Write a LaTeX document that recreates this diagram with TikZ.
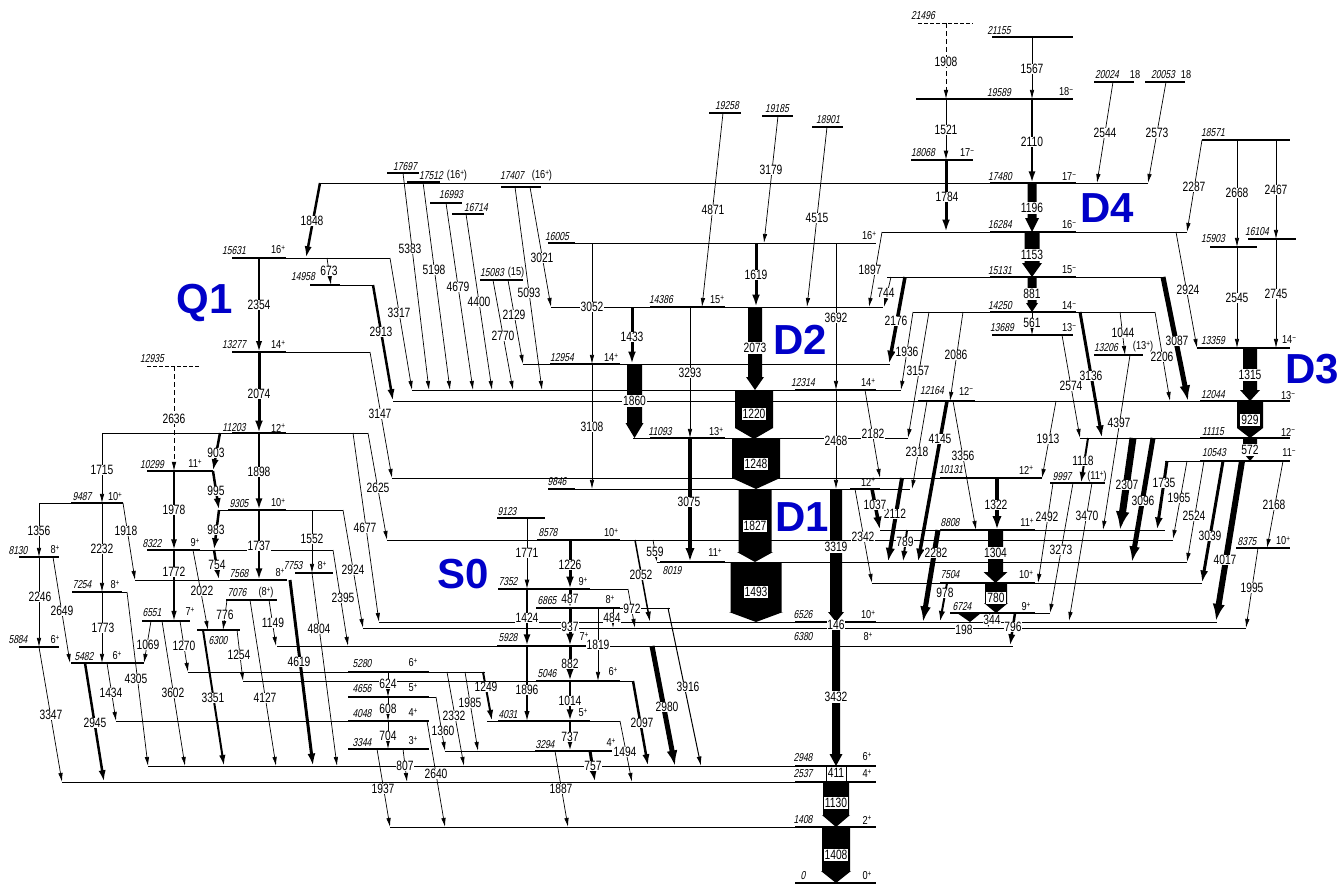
\documentclass[tikz,border=0pt]{standalone}
\usepackage{fontspec}
\setmainfont{Liberation Sans}
\newfontfamily\lblf[FakeStretch=0.76]{Liberation Sans}
\newfontfamily\lble[FakeStretch=0.74,FakeSlant=0.2]{Liberation Sans}
\newfontfamily\lbls[FakeStretch=0.8]{Liberation Sans}
\usetikzlibrary{arrows.meta}
\definecolor{bandblue}{RGB}{0,0,200}
\pgfdeclarelayer{front}
\pgfsetlayers{main,front}
\tikzset{
  lev/.style={line width=0.7pt},
  levm/.style={line width=1.2pt},
  trn/.style={-{Latex[length=8pt 1.5,width=3.4pt 1.5]}},
  tl/.style={font=\lblf\fontsize{13.5}{13.5}\selectfont, fill=white, inner sep=0.6pt},
  tlb/.style={font=\lblf\fontsize{13.5}{13.5}\selectfont, fill=white, inner sep=1pt},
  el/.style={font=\lble\fontsize{11.5}{11.5}\selectfont, inner sep=0pt},
  sl/.style={font=\lbls\fontsize{11.5}{11.5}\selectfont, inner sep=0pt},
  band/.style={font=\bfseries\fontsize{42}{42}\selectfont, text=bandblue, inner sep=0pt},
}
\newcommand\up[1]{\raisebox{0.5ex}{\fontsize{8}{8}\selectfont #1}}
\newcommand\LvT[3]{\draw[lev] (#2,#1) -- (#3,#1);}
\newcommand\LvM[3]{\draw[levm] (#2,#1) -- (#3,#1);}
\newcommand\Gam[8][0.7]{\draw[trn,line width=#1pt] (#2,#3) -- (#4,#5);
  \begin{pgfonlayer}{front}\node[tl] at (#6,#7) {#8};\end{pgfonlayer}}
\newcommand\BoxArr[8]{\fill ({#1-#4},#2) -- ({#1+#4},#2) -- ({#1+#4},{#3-#6}) -- ({#1+#5},{#3-#6}) -- (#1,#3) -- ({#1-#5},{#3-#6}) -- ({#1-#4},{#3-#6}) -- cycle;
  \begin{pgfonlayer}{front}\node[tlb] at (#1,#7) {#8};\end{pgfonlayer}}
\newcommand\EnL[3]{\node[el] at (#1,#2) {#3};}
\newcommand\SpL[3]{\node[sl] at (#1,#2) {#3};}
\begin{document}
\begin{tikzpicture}[x=1pt,y=-1pt]
\fill[white] (0,0) rectangle (1338,886);
\useasboundingbox (0,0) rectangle (1338,886);
% ---------------- levels
\draw[lev,dash pattern=on 4pt off 2pt] (918,23) -- (973,23);
\LvM{37}{992}{1073}
\LvM{99}{916}{1073}
\LvM{82}{1094}{1134}
\LvM{82}{1145}{1185}
\LvM{113}{709}{741}
\LvM{116}{762}{793}
\LvM{127}{812}{843}
\LvM{140}{1202}{1290}
\LvM{160}{911}{973}
\LvM{173}{387}{419}
\LvM{182}{407}{440}
\LvT{183}{320}{1148}\LvM{183}{990}{1076}
\LvM{187}{501}{541}
\LvM{203}{430}{462}
\LvM{214}{452}{484}
\LvM{239}{1248}{1296}
\LvT{243}{550}{876}\LvM{243}{548}{575}
\LvM{247}{1210}{1257}
\LvT{232}{882}{1187}\LvM{232}{990}{1076}
\LvM{258}{232}{286}\LvT{258}{286}{390}
\LvT{277}{887}{1163}\LvM{277}{990}{1076}
\LvM{280}{480}{523}
\LvM{285}{310}{340}\LvT{285}{340}{373}
\LvT{307}{551}{883}\LvM{307}{650}{725}
\LvT{312}{913}{1155}\LvM{312}{990}{1076}
\LvM{335}{992}{1073}
\LvM{348}{1197}{1290}
\LvM{352}{232}{286}\LvT{352}{286}{370}
\LvM{355}{1094}{1143}
\LvT{364}{523}{890}\LvM{364}{550}{620}
\draw[lev,dash pattern=on 4pt off 2pt] (147,366) -- (200,366);
\LvT{390}{412}{901}\LvM{390}{795}{876}
\LvT{401}{393}{1290}\LvM{401}{1200}{1290}\LvM{401}{918}{975}
\LvT{433}{102}{368}\LvM{433}{232}{286}
\LvT{438}{633}{908}\LvM{438}{650}{725}
\LvT{438}{1080}{1290}\LvM{438}{1200}{1290}
\LvT{461}{1165}{1290}\LvM{461}{1200}{1290}
\LvM{471}{147}{213}
\LvT{478}{392}{1042}\LvM{478}{940}{1042}
\LvM{483}{1050}{1105}
\LvT{489}{548}{910}\LvM{489}{548}{575}\LvM{489}{850}{880}
\LvM{503}{71}{123}\LvT{503}{39}{71}
\LvM{510}{228}{286}\LvT{510}{219}{343}
\LvM{518}{497}{545}
\LvT{530}{880}{1165}\LvM{530}{940}{1035}
\LvT{540}{387}{1173}\LvM{540}{537}{620}
\LvM{548}{1236}{1290}
\LvM{550}{147}{200}\LvT{550}{200}{333}
\LvM{557}{19}{59}
\LvT{562}{657}{1187}\LvM{562}{660}{725}
\LvM{573}{295}{333}
\LvM{580}{230}{287}\LvT{580}{135}{230}
\LvT{583}{872}{1202}\LvM{583}{940}{1035}
\LvM{589}{498}{590}\LvT{589}{590}{628}
\LvM{592}{72}{122}\LvT{592}{122}{127}
\LvM{600}{226}{277}
\LvM{608}{536}{620}\LvT{608}{620}{670}
\LvM{613}{950}{1035}\LvT{613}{1035}{1050}
\LvM{621}{142}{190}
\LvT{622}{379}{1217}\LvM{622}{795}{876}
\LvT{628}{363}{1246}
\LvM{630}{197}{240}
\LvT{646}{277}{1013}\LvM{646}{497}{590}
\LvM{647}{19}{59}
\LvM{663}{71}{144}
\LvM{672}{348}{429}\LvT{672}{188}{485}
\LvM{681}{536}{620}\LvT{681}{243}{633}
\LvM{697}{348}{429}\LvT{697}{429}{436}
\LvM{721}{348}{429}\LvT{721}{116}{348}
\LvM{721}{498}{590}\LvT{721}{487}{620}
\LvM{749}{348}{429}
\LvM{751}{535}{612}\LvT{751}{445}{535}
\LvT{766}{148}{876}\LvM{766}{795}{876}
\LvT{782}{62}{876}\LvM{782}{795}{876}
\LvT{827}{390}{876}\LvM{827}{795}{876}
\LvM{883}{795}{876}
% ---------------- energy and spin labels
\EnL{923}{16}{21496}
\EnL{999}{31}{21155}
\EnL{999}{93}{19589}\SpL{1066}{92}{18\up{−}}
\EnL{1107}{75}{20024}\SpL{1135}{75}{18}
\EnL{1163}{75}{20053}\SpL{1186}{75}{18}
\EnL{727}{106}{19258}
\EnL{777}{109}{19185}
\EnL{828}{120}{18901}
\EnL{1213}{133}{18571}
\EnL{923}{153}{18068}\SpL{967}{153}{17\up{−}}
\EnL{405}{167}{17697}
\EnL{431}{176}{17512}\SpL{457}{176}{(16\up{+})}
\EnL{1000}{177}{17480}\SpL{1069}{177}{17\up{−}}
\EnL{512}{176}{17407}\SpL{542}{176}{(16\up{+})}
\EnL{451}{195}{16993}
\EnL{476}{208}{16714}
\EnL{1000}{225}{16284}\SpL{1069}{225}{16\up{−}}
\EnL{1257}{232}{16104}
\EnL{557}{237}{16005}\SpL{869}{236}{16\up{+}}
\EnL{1213}{239}{15903}
\EnL{234}{251}{15631}\SpL{278}{250}{16\up{+}}
\EnL{1000}{271}{15131}\SpL{1069}{270}{15\up{−}}
\EnL{492}{273}{15083}\SpL{516}{273}{(15)}
\EnL{303}{277}{14958}
\EnL{661}{300}{14386}\SpL{717}{300}{15\up{+}}
\EnL{1000}{306}{14250}\SpL{1069}{306}{14\up{−}}
\EnL{1002}{328}{13689}\SpL{1069}{328}{13\up{−}}
\EnL{1213}{341}{13359}\SpL{1289}{340}{14\up{−}}
\EnL{234}{345}{13277}\SpL{278}{345}{14\up{+}}
\EnL{1106}{348}{13206}\SpL{1143}{347}{(13\up{+})}
\EnL{562}{358}{12954}\SpL{611}{358}{14\up{+}}
\EnL{152}{359}{12935}
\EnL{803}{383}{12314}\SpL{868}{383}{14\up{+}}
\EnL{932}{391}{12164}\SpL{966}{391}{12\up{−}}
\EnL{1213}{395}{12044}\SpL{1288}{396}{13\up{−}}
\EnL{234}{428}{11203}\SpL{278}{428}{12\up{+}}
\EnL{660}{432}{11093}\SpL{716}{432}{13\up{+}}
\EnL{1213}{432}{11115}\SpL{1288}{432}{12\up{−}}
\EnL{1214}{453}{10543}\SpL{1289}{453}{11\up{−}}
\EnL{152}{465}{10299}\SpL{195}{464}{11\up{+}}
\EnL{951}{470}{10131}\SpL{1026}{470}{12\up{+}}
\EnL{1062}{477}{9997}\SpL{1097}{477}{(11\up{+})}
\EnL{557}{482}{9846}\SpL{868}{482}{12\up{+}}
\EnL{82}{497}{9487}\SpL{115}{497}{10\up{+}}
\EnL{239}{504}{9305}\SpL{278}{503}{10\up{+}}
\EnL{507}{512}{9123}
\EnL{950}{523}{8808}\SpL{1027}{523}{11\up{+}}
\EnL{548}{533}{8578}\SpL{611}{533}{10\up{+}}
\EnL{1247}{542}{8375}\SpL{1283}{541}{10\up{+}}
\EnL{152}{544}{8322}\SpL{195}{543}{9\up{+}}
\EnL{18}{551}{8130}\SpL{55}{550}{8\up{+}}
\EnL{672}{571}{8019}\SpL{715}{553}{11\up{+}}
\EnL{293}{566}{7753}\SpL{322}{566}{8\up{+}}
\EnL{239}{574}{7568}\SpL{280}{573}{8\up{+}}
\EnL{950}{575}{7504}\SpL{1026}{575}{10\up{+}}
\EnL{508}{582}{7352}\SpL{583}{582}{9\up{+}}
\EnL{82}{585}{7254}\SpL{115}{585}{8\up{+}}
\EnL{237}{593}{7076}\SpL{266}{593}{(8\up{+})}
\EnL{547}{601}{6865}\SpL{610}{600}{8\up{+}}
\EnL{962}{607}{6724}\SpL{1026}{607}{9\up{+}}
\EnL{152}{613}{6551}\SpL{190}{612}{7\up{+}}
\EnL{803}{615}{6526}\SpL{868}{615}{10\up{+}}
\EnL{803}{637}{6380}\SpL{868}{637}{8\up{+}}
\EnL{218}{641}{6300}
\EnL{508}{638}{5928}\SpL{584}{637}{7\up{+}}
\EnL{18}{640}{5884}\SpL{55}{640}{6\up{+}}
\EnL{84}{657}{5482}\SpL{117}{656}{6\up{+}}
\EnL{362}{664}{5280}\SpL{413}{663}{6\up{+}}
\EnL{547}{674}{5046}\SpL{613}{672}{6\up{+}}
\EnL{362}{689}{4656}\SpL{413}{688}{5\up{+}}
\EnL{362}{714}{4048}\SpL{413}{713}{4\up{+}}
\EnL{508}{715}{4031}\SpL{583}{713}{5\up{+}}
\EnL{362}{743}{3344}\SpL{413}{741}{3\up{+}}
\EnL{545}{745}{3294}\SpL{611}{743}{4\up{+}}
\EnL{803}{758}{2948}\SpL{867}{757}{6\up{+}}
\EnL{803}{774}{2537}\SpL{867}{774}{4\up{+}}
\EnL{803}{820}{1408}\SpL{867}{820}{2\up{+}}
\EnL{803}{876}{0}\SpL{867}{876}{0\up{+}}
% ---------------- transitions: top
\draw[trn,line width=0.8pt,dash pattern=on 5pt off 3pt] (946,23) -- (946,99);
\begin{pgfonlayer}{front}\node[tl] at (946,62) {1908};\end{pgfonlayer}
\Gam{1032}{37}{1032}{99}{1032}{69}{1567}
\Gam{1113}{82}{1097}{183}{1105}{133}{2544}
\Gam{1166}{82}{1148}{183}{1157}{133}{2573}
\Gam[1]{946}{99}{946}{160}{946}{130}{1521}
\Gam[2.5]{1032}{99}{1032}{183}{1032}{142}{2110}
\Gam{723}{113}{702}{307}{713}{210}{4871}
\Gam{778}{116}{764}{243}{771}{170}{3179}
\Gam{827}{127}{807}{307}{817}{218}{4515}
\Gam[3]{946}{160}{946}{232}{947}{197}{1784}
\Gam[2.5]{320}{183}{306}{258}{312}{221}{1848}
\Gam{403}{173}{429}{390}{410}{249}{5383}
\Gam{423}{182}{450}{390}{434}{270}{5198}
\Gam{446}{203}{473}{390}{458}{287}{4679}
\Gam{466}{214}{492}{390}{479}{302}{4400}
\Gam{390}{258}{412}{390}{399}{313}{3317}
\Gam[2.5]{373}{285}{393}{401}{381}{332}{2913}
\Gam{493}{280}{513}{390}{503}{336}{2770}
\Gam{515}{187}{542}{390}{529}{293}{5093}
\Gam{530}{187}{551}{307}{542}{258}{3021}
\Gam{508}{280}{523}{364}{514}{315}{2129}
\Gam{592}{243}{592}{364}{592}{307}{3052}
\Gam{592}{364}{592}{489}{592}{427}{3108}
\Gam[3]{632}{307}{632}{364}{632}{337}{1433}
\Gam{690}{307}{690}{438}{690}{373}{3293}
\Gam[4]{690}{438}{690}{562}{689}{502}{3075}
\Gam[3]{756}{243}{756}{307}{756}{275}{1619}
\Gam{836}{243}{836}{390}{836}{318}{3692}
\Gam{836}{390}{836}{489}{836}{441}{2468}
% boxes
\BoxArr{634.5}{364}{438}{7.5}{9}{15}{401}{1860}
\BoxArr{755}{307}{390}{7}{9}{13}{348}{2073}
\BoxArr{754}{390}{439}{19}{19}{11}{414}{1220}
\BoxArr{756}{439}{489}{24}{24}{11}{464}{1248}
\BoxArr{755}{489}{562}{16.5}{18}{10}{526}{1827}
\BoxArr{756}{562}{622}{25.5}{27}{10}{592}{1493}
\BoxArr{836}{489}{622}{6}{8}{10}{547}{3319}
\BoxArr{836}{628}{766}{4}{6.5}{12}{697}{3432}
\BoxArr{836}{782}{827}{13}{14}{12}{803}{1130}
\BoxArr{836}{827}{883}{14}{15}{12}{855}{1408}
\BoxArr{995.5}{530}{583}{7.5}{12}{11}{553}{1304}
\BoxArr{996}{583}{613}{11}{12}{10}{598}{780}
\BoxArr{1250}{348}{401}{7}{10}{11}{375}{1315}
\BoxArr{1250}{401}{438}{13}{13}{10}{420}{929}
\BoxArr{1250}{438}{461}{7}{5}{6}{450}{572}
\BoxArr{1032}{183}{232}{4.5}{7}{14}{208}{1196}
\BoxArr{1032}{232}{277}{7.5}{10}{14}{255}{1153}
\BoxArr{1032}{277}{312}{4.5}{6}{9}{294}{881}
\begin{pgfonlayer}{front}\node[tl] at (836,625) {146};\end{pgfonlayer}
\draw[line width=0.7pt,fill=white] (826,766) rectangle (846,781);
\begin{pgfonlayer}{front}\node[tl] at (836,773) {411};\end{pgfonlayer}
% right part
\Gam{882}{232}{869}{307}{870}{270}{1897}
\Gam{891}{277}{884}{307}{886}{293}{744}
\Gam[3.5]{905}{277}{889}{364}{896}{321}{2176}
\Gam{913}{312}{901}{390}{907}{352}{1936}
\Gam{929}{312}{908}{438}{918}{371}{3157}
\Gam{963}{312}{950}{401}{956}{355}{2086}
\Gam{865}{390}{880}{478}{873}{434}{2182}
\Gam{927}{401}{912}{489}{917}{452}{2318}
\Gam[3.5]{947}{401}{918}{562}{940}{439}{4145}
\Gam{953}{401}{976}{530}{963}{456}{3356}
\Gam[4]{902}{478}{888}{562}{895}{514}{2112}
\Gam[3.5]{872}{489}{880}{530}{875}{505}{1037}
\Gam{855}{489}{872}{583}{863}{537}{2342}
\Gam[2]{907}{530}{903}{562}{905}{542}{789}
\Gam[5]{938}{530}{923}{622}{936}{553}{2282}
\Gam[2]{947}{583}{940}{622}{945}{593}{978}
\Gam[4]{997}{478}{997}{530}{996}{505}{1322}
\fill (957,613) -- (981,613) -- (970,622) -- cycle;
\begin{pgfonlayer}{front}\node[tl] at (964,630) {198};\end{pgfonlayer}
\Gam{990}{613}{988}{628}{992}{620}{344}
\Gam[2.5]{1015}{613}{1010}{646}{1013}{627}{796}
\Gam{1032}{312}{1032}{335}{1032}{323}{561}
\Gam{1062}{335}{1080}{438}{1071}{386}{2574}
\Gam[3]{1080}{312}{1102}{438}{1091}{376}{3136}
\Gam{1120}{312}{1125}{355}{1123}{333}{1044}
\Gam{1130}{355}{1103}{530}{1119}{423}{4397}
\Gam{1155}{312}{1170}{401}{1162}{357}{2206}
\Gam[5]{1163}{277}{1188}{401}{1177}{341}{3087}
\Gam{1202}{140}{1187}{232}{1194}{187}{2287}
\Gam{1176}{232}{1197}{348}{1188}{290}{2924}
\Gam{1237}{140}{1237}{247}{1237}{193}{2668}
\Gam{1237}{247}{1237}{348}{1237}{298}{2545}
\Gam{1276}{140}{1276}{239}{1276}{190}{2467}
\Gam{1276}{239}{1276}{348}{1276}{294}{2745}
\Gam{1056}{401}{1042}{478}{1048}{439}{1913}
\Gam[2]{1088}{438}{1081}{483}{1083}{461}{1118}
\Gam{1053}{483}{1038}{583}{1047}{517}{2492}
\Gam{1073}{483}{1050}{613}{1061}{550}{3273}
\Gam{1092}{483}{1069}{621}{1087}{516}{3470}
\Gam[7]{1133}{438}{1120}{530}{1127}{485}{2307}
\Gam[5]{1153}{438}{1132}{562}{1143}{501}{3096}
\Gam[3]{1167}{461}{1157}{530}{1164}{483}{1735}
\Gam{1187}{461}{1173}{539}{1179}{498}{1965}
\Gam{1204}{461}{1187}{562}{1194}{516}{2524}
\Gam[3]{1223}{461}{1202}{583}{1210}{536}{3039}
\Gam[6]{1242}{461}{1216}{621}{1225}{560}{4017}
\Gam{1283}{461}{1267}{548}{1274}{505}{2168}
\Gam{1258}{548}{1246}{628}{1252}{588}{1995}
% left part
\Gam[2]{259}{258}{259}{352}{259}{305}{2354}
\Gam{327}{258}{331}{285}{329}{271}{673}
\Gam[3]{259}{352}{259}{433}{259}{394}{2074}
\draw[trn,line width=0.8pt,dash pattern=on 5pt off 3pt] (174,366) -- (174,471);
\begin{pgfonlayer}{front}\node[tl] at (174,419) {2636};\end{pgfonlayer}
\Gam{370}{352}{392}{478}{380}{414}{3147}
\Gam{368}{433}{387}{540}{378}{488}{2625}
\Gam{353}{433}{379}{622}{365}{528}{4677}
\Gam{102}{433}{102}{503}{102}{470}{1715}
\Gam[2.5]{220}{433}{213}{471}{216}{453}{903}
\Gam[2.5]{259}{433}{259}{510}{259}{472}{1898}
\Gam[2.5]{213}{471}{219}{510}{216}{491}{995}
\Gam[1.8]{174}{471}{174}{550}{174}{510}{1978}
\Gam{39}{503}{39}{557}{39}{531}{1356}
\Gam{102}{503}{102}{592}{102}{549}{2232}
\Gam{123}{503}{135}{580}{126}{531}{1918}
\Gam[2.5]{219}{510}{214}{550}{216}{530}{983}
\Gam[2.5]{259}{510}{259}{580}{259}{546}{1737}
\Gam{312}{510}{312}{573}{312}{539}{1552}
\Gam{343}{510}{363}{628}{353}{570}{2924}
\Gam{333}{550}{348}{646}{343}{598}{2395}
\Gam[1.5]{174}{550}{174}{621}{174}{572}{1772}
\Gam[2.5]{214}{550}{219}{580}{217}{565}{754}
\Gam{193}{550}{208}{630}{202}{591}{2022}
\Gam{39}{557}{39}{647}{40}{597}{2246}
\Gam{53}{557}{70}{663}{62}{611}{2649}
\Gam{102}{592}{102}{663}{103}{628}{1773}
\Gam{127}{592}{148}{766}{136}{679}{4305}
\Gam[3]{290}{580}{313}{766}{299}{662}{4619}
\Gam{312}{573}{337}{766}{319}{629}{4804}
\Gam{227}{600}{223}{630}{225}{615}{776}
\Gam{269}{600}{276}{646}{273}{623}{1149}
\Gam{250}{600}{276}{766}{265}{698}{4127}
\Gam{151}{621}{144}{663}{148}{645}{1069}
\Gam{180}{621}{188}{672}{184}{646}{1270}
\Gam{162}{621}{185}{766}{173}{693}{3602}
\Gam[2]{203}{630}{224}{766}{213}{698}{3351}
\Gam{237}{630}{243}{681}{239}{655}{1254}
\Gam{39}{647}{62}{782}{51}{715}{3347}
\Gam[2.5]{85}{663}{104}{782}{95}{723}{2945}
\Gam{107}{663}{116}{721}{111}{693}{1434}
% S0 part
\Gam[1]{527}{518}{527}{589}{527}{553}{1771}
\Gam[3]{570}{540}{570}{589}{570}{565}{1226}
\Gam{628}{589}{635}{628}{632}{609}{972}
\Gam[1.5]{635}{540}{650}{622}{641}{575}{2052}
\Gam{653}{540}{657}{562}{655}{552}{559}
\Gam[3]{570}{589}{570}{608}{570}{599}{487}
\Gam[2.5]{527}{589}{527}{646}{527}{618}{1424}
\Gam[3]{570}{608}{570}{646}{570}{627}{937}
\Gam{613}{608}{613}{628}{612}{618}{484}
\Gam{598}{608}{598}{681}{598}{645}{1819}
\Gam[1]{668}{608}{701}{766}{688}{687}{3916}
\Gam[5]{652}{646}{675}{766}{667}{707}{2980}
\Gam[3]{570}{646}{570}{681}{570}{664}{882}
\Gam[2.5]{633}{681}{648}{766}{642}{723}{2097}
\Gam[1.2]{527}{646}{527}{721}{527}{690}{1896}
\Gam[2.5]{570}{681}{570}{721}{570}{701}{1014}
\Gam[2]{483}{672}{492}{721}{486}{687}{1249}
\Gam{465}{672}{478}{751}{470}{703}{1985}
\Gam{447}{672}{464}{766}{454}{716}{2332}
\Gam{436}{697}{445}{751}{443}{731}{1360}
\Gam{388}{672}{388}{697}{388}{684}{624}
\Gam{388}{697}{388}{721}{388}{709}{608}
\Gam{388}{721}{388}{749}{388}{736}{704}
\Gam{403}{749}{407}{782}{405}{766}{807}
\Gam{377}{749}{390}{827}{383}{789}{1937}
\Gam{427}{721}{445}{827}{436}{774}{2640}
\Gam[2.5]{570}{721}{570}{751}{570}{737}{737}
\Gam{555}{751}{568}{827}{561}{789}{1887}
\Gam[3]{590}{751}{595}{782}{593}{766}{757}
\Gam{620}{721}{632}{782}{625}{752}{1494}
% band labels
\node[band] (q1) at (205,303) {Q1};
\node[band] (d2) at (800,340) {D2};
\node[band] (d1) at (802,517) {D1};
\node[band] (s0) at (463,574) {S0};
\node[band] (d4) at (1107,208) {D4};
\node[band] (d3) at (1312,369) {D3};
\end{tikzpicture}
\end{document}
